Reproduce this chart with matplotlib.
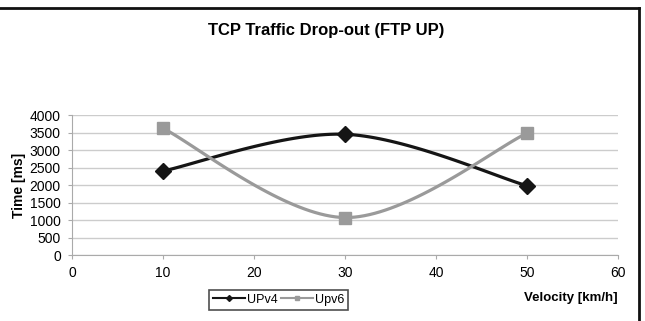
import matplotlib.pyplot as plt
import numpy as np

velocity = [10, 30, 50]
upv4 = [2400, 3450, 1980]
upv6 = [3620, 1070, 3480]

x_ticks = [0, 10, 20, 30, 40, 50, 60]
y_ticks = [0, 500, 1000, 1500, 2000, 2500, 3000, 3500, 4000]


def smooth(xs, ys, steps=40):
    # Bezier curve through the points, control points like a spreadsheet "smoothed line"
    p = np.column_stack([xs, ys]).astype(float)
    out = [p[0]]
    for i in range(len(p) - 1):
        p0 = p[i - 1] if i > 0 else p[i]
        p3 = p[i + 2] if i + 2 < len(p) else p[i + 1]
        c1 = p[i] + (p[i + 1] - p0) / 6
        c2 = p[i + 1] - (p3 - p[i]) / 6
        t = np.linspace(0, 1, steps)[1:, None]
        seg = ((1 - t) ** 3 * p[i] + 3 * (1 - t) ** 2 * t * c1
               + 3 * (1 - t) * t ** 2 * c2 + t ** 3 * p[i + 1])
        out.extend(seg)
    out = np.array(out)
    return out[:, 0], out[:, 1]


plt.rcParams['font.family'] = ['Liberation Sans', 'DejaVu Sans']

fig = plt.figure(figsize=(6.45, 3.21), dpi=100)
ax = fig.add_axes([0.1116, 0.2056, 0.8464, 0.4361])

c4, c6 = '#151515', '#9a9a9a'
sx, sy = smooth(velocity, upv4)
ax.plot(sx, sy, color=c4, lw=2.3, zorder=3)
ax.plot(velocity, upv4, ls='none', marker='D', ms=8, color=c4, zorder=4)
sx, sy = smooth(velocity, upv6)
ax.plot(sx, sy, color=c6, lw=2.3, zorder=3)
ax.plot(velocity, upv6, ls='none', marker='s', ms=9, color=c6, zorder=4)

ax.set_xlim(0, 60)
ax.set_ylim(0, 4000)
ax.set_xticks(x_ticks)
ax.set_yticks(y_ticks)
ax.tick_params(labelsize=10, length=3, color='#aaaaaa', pad=5)
ax.yaxis.grid(True, color='#cccccc', lw=1)
ax.set_axisbelow(True)
for side in ['top', 'right']:
    ax.spines[side].set_visible(False)
for side in ['left', 'bottom']:
    ax.spines[side].set_color('#aaaaaa')

ax.set_ylabel('Time [ms]', fontsize=10, fontweight='bold', labelpad=3)
fig.text(0.505, 0.905, 'TCP Traffic Drop-out (FTP UP)', ha='center', va='center',
         fontsize=12, fontweight='bold')
fig.text(0.957, 0.073, 'Velocity [km/h]', ha='right', va='center',
         fontsize=9.5, fontweight='bold')

h4, = ax.plot([], [], color=c4, lw=1.5, marker='D', ms=3)
h6, = ax.plot([], [], color=c6, lw=1.5, marker='s', ms=3)
leg = fig.legend([h4, h6], ['UPv4', 'Upv6'], loc='center', bbox_to_anchor=(0.432, 0.066),
                 ncol=2, fontsize=9, frameon=True, fancybox=False, handlelength=2.6,
                 columnspacing=0.2, handletextpad=0.15, borderpad=0.3)
leg.get_frame().set_edgecolor('#222222')
leg.get_frame().set_linewidth(1.2)

# outer frame lines along the top and right
fig.add_artist(plt.Line2D([0, 0.99], [0.975, 0.975], color='#111111', lw=2))
fig.add_artist(plt.Line2D([0.99, 0.99], [0, 0.975], color='#111111', lw=2))

fig.savefig('out.png', dpi=100)
